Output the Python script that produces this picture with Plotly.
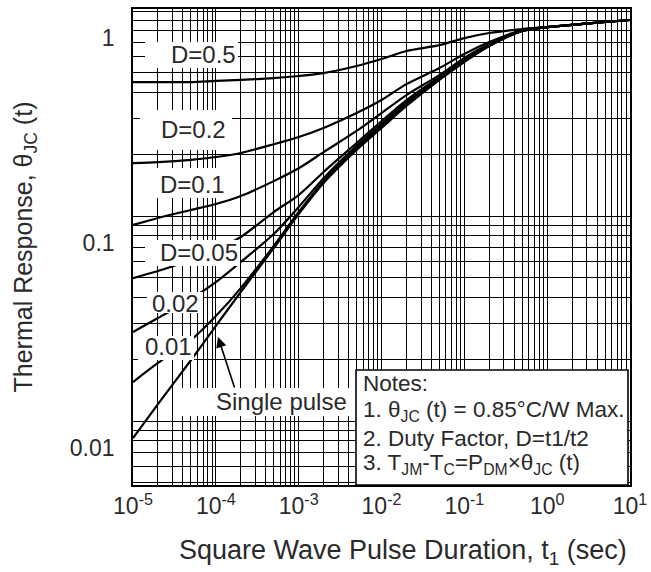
import plotly.graph_objects as go

# ---------------- data ----------------
t_sec = [1e-5, 2e-5, 5e-5, 1e-4, 2e-4, 5e-4, 1e-3, 2e-3, 5e-3, 1e-2,
         2e-2, 5e-2, 0.1, 0.2, 0.5, 1, 2, 5, 10]

z_d050 = [0.450, 0.450, 0.450, 0.456, 0.461, 0.471, 0.482, 0.498, 0.539, 0.583,
          0.638, 0.682, 0.738, 0.781, 0.817, 0.835, 0.855, 0.884, 0.904]
z_d020 = [0.181, 0.183, 0.188, 0.194, 0.203, 0.224, 0.243, 0.269, 0.318, 0.368,
          0.440, 0.527, 0.617, 0.706, 0.808, 0.835, 0.855, 0.884, 0.904]
z_d010 = [0.0904, 0.0978, 0.107, 0.1144, 0.1252, 0.148, 0.171, 0.205, 0.260, 0.318,
          0.389, 0.487, 0.590, 0.690, 0.799, 0.835, 0.855, 0.884, 0.904]
z_d005 = [0.0498, 0.0539, 0.0610, 0.0683, 0.0790, 0.1046, 0.1266, 0.164, 0.227, 0.290,
          0.368, 0.476, 0.577, 0.682, 0.799, 0.835, 0.855, 0.884, 0.904]
z_d002 = [0.0272, 0.0318, 0.0394, 0.0476, 0.0597, 0.0817, 0.1106, 0.153, 0.220, 0.281,
          0.360, 0.471, 0.570, 0.682, 0.799, 0.835, 0.855, 0.884, 0.904]
z_d001 = [0.0155, 0.0192, 0.0248, 0.0325, 0.0445, 0.0714, 0.1046, 0.148, 0.215, 0.275,
          0.352, 0.466, 0.570, 0.675, 0.799, 0.835, 0.855, 0.884, 0.904]
z_single = [0.00826, 0.0121, 0.0198, 0.0291, 0.0426, 0.0698, 0.1023, 0.145, 0.210, 0.269,
            0.344, 0.461, 0.564, 0.675, 0.799, 0.835, 0.855, 0.884, 0.904]

series = [z_d050, z_d020, z_d010, z_d005, z_d002, z_d001, z_single]

x_tickvals = [1e-5, 1e-4, 1e-3, 1e-2, 1e-1, 1, 10]
x_ticktext = ['10<sup>-5</sup>', '10<sup>-4</sup>', '10<sup>-3</sup>', '10<sup>-2</sup>',
              '10<sup>-1</sup>', '10<sup>0</sup>', '10<sup>1</sup>']
y_tickvals = [0.01, 0.1, 1]
y_ticktext = ['0.01', '0.1', '1']

x_title = 'Square Wave Pulse Duration, t<sub>1</sub> (sec)'
y_title = 'Thermal Response, θ<sub>JC</sub> (t)'
curve_labels = ['D=0.5', 'D=0.2', 'D=0.1', 'D=0.05', '0.02', '0.01', 'Single pulse']
notes = ['Notes:',
         '1. θ<sub>JC</sub> (t) = 0.85°C/W Max.',
         '2. Duty Factor, D=t1/t2',
         '3. T<sub>JM</sub>-T<sub>C</sub>=P<sub>DM</sub>×θ<sub>JC</sub> (t)']

# ---------------- layout geometry ----------------
W, H = 651, 572
ML, MR, MT, MB = 133, 21, 9, 87
PW, PH = W - ML - MR, H - MT - MB


def pxx(x):
    return (x - ML) / PW


def pxy(y):
    return (H - MB - y) / PH


FONT = 'Liberation Sans, Arial, sans-serif'
TXT = '#2a2a2a'

fig = go.Figure()
for z in series:
    fig.add_trace(go.Scatter(x=t_sec, y=z, mode='lines',
                             line=dict(color='black', width=2.2, shape='spline', smoothing=0.8),
                             showlegend=False, hoverinfo='skip'))

x_minor = [k * 10.0 ** e for e in range(-5, 1) for k in range(2, 10)]
y_minor = [k * 10.0 ** e for e in range(-3, 0) for k in range(2, 10)]

axis_common = dict(type='log', showgrid=True, gridcolor='black', gridwidth=1.3,
                   showline=True, linecolor='black', linewidth=1.6, mirror=True,
                   ticks='', zeroline=False, automargin=False, ticklabeloverflow='allow',
                   tickfont=dict(family=FONT, size=23, color=TXT))

fig.update_xaxes(**axis_common, range=[-5, 1], tickmode='array',
                 tickvals=x_tickvals, ticktext=x_ticktext,
                 minor=dict(tickmode='array', tickvals=x_minor, showgrid=True,
                            gridcolor='black', gridwidth=1.3))
fig.update_yaxes(**axis_common, range=[-2.312, 0.0098], tickmode='array',
                 tickvals=y_tickvals, ticktext=y_ticktext,
                 ticklabelshift=27, ticklabelstandoff=12,
                 minor=dict(tickmode='array', tickvals=y_minor, showgrid=True,
                            gridcolor='black', gridwidth=1.3),
                 title=dict(text=y_title,
                            font=dict(family=FONT, size=25, color=TXT), standoff=30))

shapes = []
annotations = []

# x-axis title (placed where the reference has it)
annotations.append(dict(xref='paper', yref='paper', x=pxx(403), y=pxy(552), text=x_title,
                        showarrow=False, xanchor='center', yanchor='middle',
                        font=dict(family=FONT, size=27, color=TXT)))

# white label boxes (pixel boxes) and label texts
label_boxes = [
    ((145, 42, 238, 68), (203, 54)),
    ((140, 110, 232, 150), (193, 129)),
    ((140, 168, 232, 198), (192, 184)),
    ((145, 240, 240, 266), (199, 253)),
    ((147, 292, 203, 313), (175, 303)),
    ((138, 336, 194, 360), (168, 347)),
    ((182, 388, 350, 416), (281, 401)),
]
for (x0, y0, x1, y1), _ in label_boxes:
    shapes.append(dict(type='rect', xref='paper', yref='paper', layer='above',
                       x0=pxx(x0), x1=pxx(x1), y0=pxy(y1), y1=pxy(y0),
                       fillcolor='white', line=dict(width=0)))
for text, (_, (cx, cy)) in zip(curve_labels, label_boxes):
    annotations.append(dict(xref='paper', yref='paper', x=pxx(cx), y=pxy(cy),
                            text=text, showarrow=False, xanchor='center', yanchor='middle',
                            font=dict(family=FONT, size=24, color=TXT)))

# arrow for the single-pulse label
annotations.append(dict(xref='paper', yref='paper', x=pxx(218), y=pxy(337), text='',
                        showarrow=True, ax=17, ay=52, arrowhead=2, arrowsize=1.3,
                        arrowwidth=1.6, arrowcolor='black'))

# notes box
shapes.append(dict(type='rect', xref='paper', yref='paper', layer='above',
                   x0=pxx(356), x1=pxx(628), y0=pxy(485), y1=pxy(370),
                   fillcolor='white', line=dict(color='black', width=1.6)))
for text, yy in zip(notes, [383, 411, 438, 464]):
    annotations.append(dict(xref='paper', yref='paper', x=pxx(361), y=pxy(yy),
                            text=text, showarrow=False, xanchor='left', yanchor='middle',
                            font=dict(family=FONT, size=22.5, color=TXT)))

fig.update_layout(width=W, height=H,
                  margin=dict(l=ML, r=MR, t=MT, b=MB, pad=0, autoexpand=False),
                  paper_bgcolor='white', plot_bgcolor='white',
                  shapes=shapes, annotations=annotations, showlegend=False)

fig.write_html('out.html', config={'displayModeBar': False},
               post_script="document.body.style.margin='0px';document.body.style.overflow='hidden';")
